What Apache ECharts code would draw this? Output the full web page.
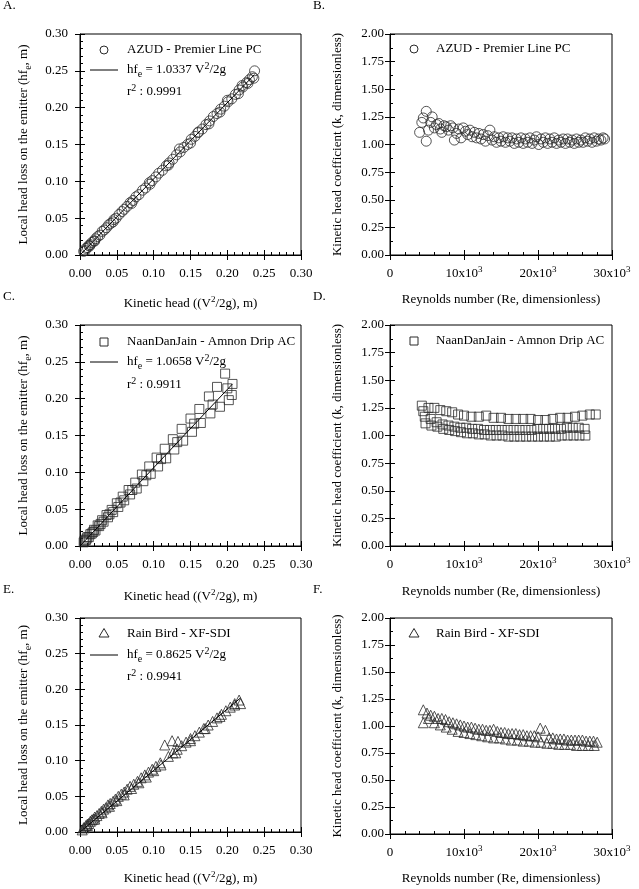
<!DOCTYPE html>
<html>
<head>
<meta charset="utf-8">
<script src="https://cdn.jsdelivr.net/npm/echarts@6/dist/echarts.min.js"></script>
<style>
html, body { margin: 0; padding: 0; background: #fff; }
#main { width: 639px; height: 889px; }
</style>
</head>
<body>
<div id="main"></div>
<script>
// A. AZUD - Premier Line PC, head loss vs kinetic head
const aX = [0.005,0.007,0.008,0.010,0.012,0.013,0.014,0.016,0.019,0.020,0.021,0.024,0.027,0.030,0.033,0.036,0.039,0.042,0.045,0.046,0.049,0.053,0.057,0.060,0.064,0.068,0.070,0.072,0.076,0.080,0.085,0.089,0.094,0.095,0.098,0.103,0.107,0.112,0.117,0.120,0.121,0.126,0.131,0.135,0.136,0.141,0.146,0.150,0.151,0.156,0.160,0.161,0.166,0.171,0.175,0.176,0.181,0.186,0.190,0.191,0.196,0.200,0.201,0.206,0.211,0.215,0.216,0.220,0.221,0.226,0.228,0.230,0.234,0.236,0.237]
const aY = [0.005,0.006,0.009,0.010,0.013,0.012,0.014,0.017,0.019,0.019,0.022,0.025,0.027,0.032,0.034,0.037,0.041,0.043,0.045,0.048,0.050,0.055,0.059,0.062,0.066,0.071,0.070,0.074,0.079,0.082,0.088,0.091,0.098,0.096,0.101,0.106,0.111,0.115,0.121,0.122,0.125,0.130,0.136,0.144,0.140,0.146,0.150,0.152,0.157,0.161,0.166,0.167,0.171,0.177,0.178,0.182,0.188,0.192,0.194,0.198,0.202,0.210,0.208,0.212,0.218,0.219,0.224,0.230,0.228,0.234,0.233,0.238,0.242,0.240,0.250]
const aFit = [[0, 0], [0.237, 0.245]]

// B. AZUD - Premier Line PC, k vs Re
const bRe = [4000,4300,4500,4900,4900,5200,5500,5700,6000,6300,6600,6800,7000,7300,7600,7900,8200,8500,8700,9000,9300,9600,9900,10200,10500,10800,11100,11400,11700,12000,12300,12600,12900,13200,13500,13800,14100,14400,14700,15000,15300,15600,15900,16200,16500,16800,17100,17400,17700,18000,18300,18600,18900,19200,19500,19800,20100,20400,20700,21000,21300,21600,21900,22200,22500,22800,23100,23400,23700,24000,24300,24600,24900,25200,25500,25800,26100,26400,26700,27000,27300,27600,27900,28200,28500,28800,29000]
const bK = [1.11,1.20,1.24,1.30,1.03,1.13,1.20,1.25,1.15,1.18,1.19,1.14,1.11,1.17,1.16,1.13,1.17,1.15,1.04,1.10,1.14,1.06,1.15,1.12,1.09,1.13,1.07,1.11,1.06,1.10,1.05,1.09,1.03,1.08,1.13,1.04,1.07,1.02,1.06,1.03,1.07,1.02,1.06,1.03,1.06,1.01,1.05,1.02,1.06,1.01,1.05,1.02,1.06,1.01,1.04,1.07,1.00,1.05,1.02,1.06,1.01,1.05,1.02,1.06,1.01,1.04,1.02,1.05,1.01,1.05,1.02,1.04,1.01,1.05,1.02,1.04,1.02,1.06,1.03,1.05,1.02,1.06,1.03,1.05,1.04,1.06,1.05]

// C. NaanDanJain - Amnon Drip AC
const cX = [0.006,0.010,0.014,0.019,0.024,0.030,0.036,0.043,0.050,0.058,0.066,0.075,0.084,0.094,0.104,0.115,0.126,0.138,0.150,0.162,0.175,0.186,0.197,
  0.009,0.018,0.028,0.040,0.055,0.071,0.090,0.110,0.132,0.155,0.180,0.200,0.207,
  0.005,0.008,0.012,0.016,0.021,0.026,0.032,0.038,0.045,0.052,0.060,0.068,0.077,0.086,0.096,0.106,0.117,0.128,0.140,0.152,0.164,0.177,0.190,0.202,0.206]
const cY = [0.007,0.012,0.016,0.022,0.028,0.035,0.042,0.049,0.058,0.067,0.076,0.086,0.097,0.108,0.120,0.132,0.145,0.159,0.173,0.186,0.203,0.216,0.234,
  0.010,0.019,0.030,0.043,0.059,0.076,0.096,0.118,0.141,0.166,0.192,0.214,0.220,
  0.005,0.008,0.012,0.017,0.021,0.027,0.033,0.039,0.046,0.053,0.062,0.070,0.078,0.088,0.098,0.108,0.119,0.131,0.143,0.155,0.167,0.180,0.189,0.198,0.205]
const cFit = [[0, 0], [0.207, 0.220]]

// D. NaanDanJain - Amnon Drip AC, k vs Re
const dRe = [4300,4500,5200,6000,6800,7600,8400,9200,10000,11000,12000,13000,14000,15000,16000,17000,18000,19000,20000,21000,22000,23000,24000,25000,26000,27000,27800,
  4700,5500,6300,7100,7900,8700,9500,10300,11100,11900,12700,13500,14300,15100,15900,16700,17500,18300,19100,19900,20700,21500,22300,23100,23900,24700,25500,26300,
  4800,5600,6400,7200,8000,8800,9600,10400,11200,12000,12800,13600,14400,15200,16000,16800,17600,18400,19200,20000,20800,21600,22400,23200,24000,24800,25600,26400]
const dK = [1.27,1.22,1.25,1.25,1.23,1.22,1.21,1.19,1.18,1.17,1.17,1.18,1.16,1.16,1.15,1.15,1.15,1.15,1.14,1.14,1.15,1.16,1.16,1.17,1.18,1.19,1.19,
  1.17,1.15,1.12,1.10,1.09,1.08,1.07,1.07,1.06,1.06,1.05,1.05,1.05,1.05,1.05,1.05,1.05,1.05,1.05,1.06,1.06,1.06,1.06,1.06,1.07,1.07,1.07,1.06,
  1.11,1.09,1.08,1.06,1.05,1.04,1.03,1.02,1.02,1.01,1.01,1.00,1.00,1.00,0.99,0.99,0.99,0.99,0.99,0.99,0.99,0.99,0.99,1.00,1.00,1.00,1.00,1.00]

// E. Rain Bird - XF-SDI
const eX = [0.003,0.005,0.006,0.008,0.010,0.012,0.014,0.016,0.018,0.020,0.023,0.026,0.029,0.032,0.035,0.038,0.041,0.045,0.048,0.052,0.056,0.060,0.064,0.068,0.073,0.078,0.083,0.088,0.093,0.098,0.103,0.109,0.115,0.125,0.133,0.120,0.126,0.132,0.138,0.144,0.150,0.156,0.162,0.168,0.174,0.180,0.186,0.192,0.198,0.204,0.210,0.216,0.218,
  0.010,0.020,0.030,0.040,0.050,0.060,0.070,0.080,0.090,0.100,0.110,0.130,0.150,0.170,0.190,0.210]
const eY = [0.003,0.006,0.006,0.009,0.011,0.012,0.015,0.017,0.018,0.021,0.023,0.026,0.029,0.032,0.034,0.038,0.040,0.043,0.046,0.050,0.053,0.056,0.060,0.064,0.067,0.071,0.076,0.080,0.084,0.088,0.092,0.097,0.122,0.128,0.127,0.106,0.111,0.116,0.121,0.126,0.131,0.135,0.140,0.145,0.150,0.155,0.160,0.165,0.170,0.175,0.180,0.185,0.180,
  0.009,0.018,0.027,0.036,0.044,0.052,0.061,0.069,0.077,0.086,0.094,0.111,0.128,0.145,0.162,0.178]
const eFit = [[0, 0], [0.218, 0.188]]

// F. Rain Bird - XF-SDI, k vs Re
const fRe = [4500,5000,5500,6000,6500,7000,7500,8000,8500,9000,9500,10000,10500,11000,11500,12000,12500,13000,13500,14000,14500,15000,15500,16000,16500,17000,17500,18000,18500,19000,19500,20000,20300,21000,21500,22000,22500,23000,23500,24000,24500,25000,25500,26000,26500,27000,27500,28000,
  4500,5200,6000,6800,7600,8400,9200,10000,10800,11600,12400,13200,14000,14800,15600,16400,17200,18000,18800,19600,20400,21200,22000,22800,23600,24400,25200,26000,26800,27600]
const fK = [1.15,1.12,1.10,1.09,1.07,1.07,1.06,1.04,1.03,1.02,1.01,1.00,0.99,0.99,0.98,0.97,0.97,0.96,0.96,0.97,0.95,0.94,0.94,0.93,0.93,0.93,0.92,0.92,0.91,0.91,0.91,0.90,0.98,0.96,0.89,0.89,0.88,0.88,0.88,0.87,0.87,0.87,0.87,0.87,0.86,0.86,0.86,0.85,
  1.03,1.07,1.03,1.01,0.99,0.97,0.95,0.94,0.93,0.92,0.91,0.90,0.89,0.89,0.88,0.87,0.87,0.86,0.86,0.85,0.85,0.84,0.84,0.83,0.83,0.83,0.82,0.82,0.82,0.82]

const font = 'Liberation Serif'
const zip = (xs, ys) => xs.map((x, i) => [x, ys[i]])

// rich styles for sub / superscripts
const richAxis = {
  n: { fontFamily: font, fontSize: 13, color: '#000', lineHeight: 18, verticalAlign: 'middle' },
  sub: { fontFamily: font, fontSize: 10, color: '#000', lineHeight: 10, verticalAlign: 'bottom' },
  sup: { fontFamily: font, fontSize: 9, color: '#000', lineHeight: 9, verticalAlign: 'top' }
}
const richG = {
  n: { fontFamily: font, fontSize: 13, fill: '#000', lineHeight: 18, verticalAlign: 'middle' },
  sub: { fontFamily: font, fontSize: 10, fill: '#000', lineHeight: 10, verticalAlign: 'bottom' },
  sup: { fontFamily: font, fontSize: 10, fill: '#000', lineHeight: 10, verticalAlign: 'top' }
}

const grids = [
  { left: 80, top: 34, width: 221, height: 221 },
  { left: 390, top: 34, width: 222, height: 221 },
  { left: 80, top: 325, width: 221, height: 221 },
  { left: 390, top: 325, width: 222, height: 221 },
  { left: 80, top: 618, width: 221, height: 221 },
  { left: 390, top: 618, width: 222, height: 221 }
].map(g => Object.assign(g, { show: true, borderColor: '#000', borderWidth: 1 }))

const headName = '{n|Kinetic head ((V}{sup|2}{n|/2g), m)}'
const lossName = '{n|Local head loss on the emitter (hf}{sub|e}{n|, m)}'
const reName = '{n|Reynolds number (Re, dimensionless)}'
const kName = '{n|Kinetic head coefficient (k, dimensionless)}'

const fmt2 = v => '{n|' + v.toFixed(2) + '}'
const fmtRe = v => v === 0 ? '{n|0}' : '{n|' + (v / 1000) + 'x10}{sup|3}'

// main axis (labels, outer ticks) + twin axis (inner ticks, minor ticks)
function axisPair(dim, gi, o) {
  const base = { gridIndex: gi, type: 'value', min: o.min, max: o.max, interval: o.interval, splitLine: { show: false }, position: dim === 'x' ? 'bottom' : 'left' }
  return [
    Object.assign({}, base, {
      axisLine: { show: true, lineStyle: { color: '#000', width: 1 } },
      axisTick: { show: true, inside: false, length: 5, lineStyle: { color: '#000' } },
      axisLabel: { margin: o.margin, formatter: o.formatter, rich: richAxis, lineHeight: 18 },
      name: o.name,
      nameLocation: 'middle',
      nameGap: o.nameGap,
      nameTextStyle: { rich: richAxis, lineHeight: 18 }
    }),
    Object.assign({}, base, {
      axisLine: { show: false },
      axisTick: { show: true, inside: true, length: 5, lineStyle: { color: '#000' } },
      minorTick: { show: true, splitNumber: o.minor, length: 3, lineStyle: { color: '#000' } },
      axisLabel: { show: false }
    })
  ]
}

const xAxis = [
  ...axisPair('x', 0, { min: 0, max: 0.3, interval: 0.05, minor: 5, margin: 10, formatter: fmt2, name: headName, nameGap: 40 }),
  ...axisPair('x', 1, { min: 0, max: 30000, interval: 10000, minor: 5, margin: 10, formatter: fmtRe, name: reName, nameGap: 36 }),
  ...axisPair('x', 2, { min: 0, max: 0.3, interval: 0.05, minor: 5, margin: 10, formatter: fmt2, name: headName, nameGap: 42 }),
  ...axisPair('x', 3, { min: 0, max: 30000, interval: 10000, minor: 5, margin: 10, formatter: fmtRe, name: reName, nameGap: 37 }),
  ...axisPair('x', 4, { min: 0, max: 0.3, interval: 0.05, minor: 5, margin: 10, formatter: fmt2, name: headName, nameGap: 38 }),
  ...axisPair('x', 5, { min: 0, max: 30000, interval: 10000, minor: 5, margin: 10, formatter: fmtRe, name: reName, nameGap: 36 })
]
const yAxis = [
  ...axisPair('y', 0, { min: 0, max: 0.3, interval: 0.05, minor: 5, margin: 12, formatter: fmt2, name: lossName, nameGap: 47 }),
  ...axisPair('y', 1, { min: 0, max: 2, interval: 0.25, minor: 2, margin: 6, formatter: fmt2, name: kName, nameGap: 43 }),
  ...axisPair('y', 2, { min: 0, max: 0.3, interval: 0.05, minor: 5, margin: 12, formatter: fmt2, name: lossName, nameGap: 47 }),
  ...axisPair('y', 3, { min: 0, max: 2, interval: 0.25, minor: 2, margin: 6, formatter: fmt2, name: kName, nameGap: 43 }),
  ...axisPair('y', 4, { min: 0, max: 0.3, interval: 0.05, minor: 5, margin: 12, formatter: fmt2, name: lossName, nameGap: 47 }),
  ...axisPair('y', 5, { min: 0, max: 2, interval: 0.25, minor: 2, margin: 6, formatter: fmt2, name: kName, nameGap: 43 })
]

const hollow = { color: 'rgba(0,0,0,0)', borderColor: '#2a2a2a', borderWidth: 1 }
function pts(gi, data, symbol, size) {
  return { type: 'scatter', xAxisIndex: gi * 2, yAxisIndex: gi * 2, data: data, symbol: symbol, symbolSize: size, itemStyle: hollow, silent: true }
}
function fit(gi, data) {
  return { type: 'line', xAxisIndex: gi * 2, yAxisIndex: gi * 2, data: data, showSymbol: false, lineStyle: { color: '#000', width: 1 }, silent: true, z: 3 }
}

const series = [
  pts(0, zip(aX, aY), 'circle', 10), fit(0, aFit),
  pts(1, zip(bRe, bK), 'circle', 10),
  pts(2, zip(cX, cY), 'rect', 9), fit(2, cFit),
  pts(3, zip(dRe, dK), 'rect', 9),
  pts(4, zip(eX, eY), 'triangle', 10), fit(4, eFit),
  pts(5, zip(fRe, fK), 'triangle', 10)
]

// legends and panel letters
const txt = (x, y, text) => ({ type: 'text', x: x, y: y, style: { text: text, rich: richG, verticalAlign: 'middle', fontFamily: font, fontSize: 13, fill: '#000' } })
const stroke = { fill: 'none', stroke: '#2a2a2a', lineWidth: 1 }
const circle = (x, y) => ({ type: 'circle', shape: { cx: x, cy: y, r: 4 }, style: stroke })
const square = (x, y) => ({ type: 'rect', shape: { x: x - 4, y: y - 4, width: 8, height: 8 }, style: stroke })
const tri = (x, y) => ({ type: 'polygon', shape: { points: [[x, y - 4.5], [x + 5, y + 4], [x - 5, y + 4]] }, style: stroke })
const dash = (y) => ({ type: 'line', shape: { x1: 90, y1: y, x2: 118, y2: y }, style: { stroke: '#000', lineWidth: 1 } })

const graphic = [
  txt(3, 6, '{n|A.}'), txt(313, 6, '{n|B.}'),
  txt(3, 297, '{n|C.}'), txt(313, 297, '{n|D.}'),
  txt(3, 590, '{n|E.}'), txt(313, 590, '{n|F.}'),

  circle(104, 50), txt(127, 50, '{n|AZUD - Premier Line PC}'),
  dash(70), txt(127, 70, '{n|hf}{sub|e}{n| = 1.0337 V}{sup|2}{n|/2g}'),
  txt(127, 92, '{n|r}{sup|2}{n| : 0.9991}'),
  circle(414, 49), txt(436, 49, '{n|AZUD - Premier Line PC}'),

  square(104, 342), txt(127, 342, '{n|NaanDanJain - Amnon Drip AC}'),
  dash(362), txt(127, 362, '{n|hf}{sub|e}{n| = 1.0658 V}{sup|2}{n|/2g}'),
  txt(127, 385, '{n|r}{sup|2}{n| : 0.9911}'),
  square(414, 341), txt(436, 341, '{n|NaanDanJain - Amnon Drip AC}'),

  tri(104, 633), txt(127, 634, '{n|Rain Bird - XF-SDI}'),
  dash(655), txt(127, 655, '{n|hf}{sub|e}{n| = 0.8625 V}{sup|2}{n|/2g}'),
  txt(127, 677, '{n|r}{sup|2}{n| : 0.9941}'),
  tri(414, 633), txt(436, 634, '{n|Rain Bird - XF-SDI}')
]

const chartBox = echarts.init(document.getElementById('main'))
chartBox.setOption({
  animation: false,
  backgroundColor: '#fff',
  grid: grids,
  xAxis: xAxis,
  yAxis: yAxis,
  series: series,
  graphic: graphic
})
</script>
</body>
</html>
